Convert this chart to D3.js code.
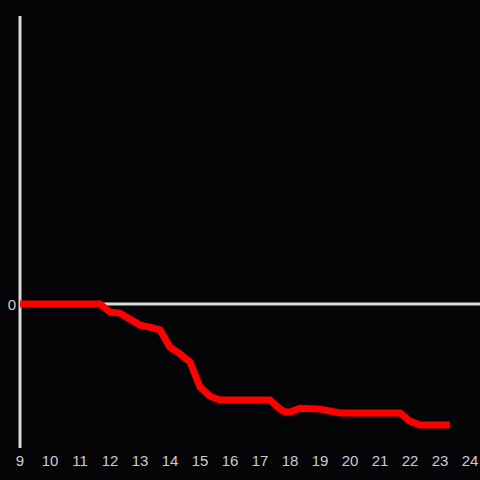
<!DOCTYPE html>
<html>
<head>
<meta charset="utf-8">
<script src="https://cdn.jsdelivr.net/npm/d3@7"></script>
<style>
  html, body { margin: 0; padding: 0; background: #050407; }
</style>
</head>
<body>
<div class="chart"></div>
<script>
// hours of the day and the series value at each hour
var hours = [9, 11.67, 12, 12.33, 13, 13.33, 13.67, 14, 14.33, 14.67, 15, 15.33, 15.67,
             17.33, 17.67, 17.83, 18, 18.33, 19, 19.67, 21.67, 22, 22.33, 23.33];
var values = [0, 0, -0.17, -0.19, -0.44, -0.48, -0.54, -0.9, -1.04, -1.21, -1.73, -1.92, -2.0,
              -2.0, -2.19, -2.25, -2.25, -2.17, -2.19, -2.27, -2.27, -2.44, -2.52, -2.52];
var xTicks = [9, 10, 11, 12, 13, 14, 15, 16, 17, 18, 19, 20, 21, 22, 23, 24];
var yTicks = [0];

var width = 480, height = 480;

var svg = d3.select('.chart').append('svg')
    .attr('width', width)
    .attr('height', height)
    .style('display', 'block');

svg.append('rect').attr('width', width).attr('height', height).attr('fill', '#050407');

var x = d3.scaleLinear().domain([9, 24]).range([20, 470]);
var y = d3.scaleLinear().domain([-3, 6]).range([448, 16]);

// y axis line
svg.append('line')
    .attr('x1', x(9)).attr('x2', x(9))
    .attr('y1', y(6)).attr('y2', y(-3))
    .attr('stroke', '#dcdcdc')
    .attr('stroke-width', 3);

// zero line
svg.append('line')
    .attr('x1', x(9)).attr('x2', width)
    .attr('y1', y(0)).attr('y2', y(0))
    .attr('stroke', '#dcdcdc')
    .attr('stroke-width', 3);

// x tick labels
svg.append('g').selectAll('text')
    .data(xTicks)
    .enter()
    .append('text')
    .attr('x', function (d) { return x(d); })
    .attr('y', 466)
    .attr('text-anchor', 'middle')
    .style('font-family', '"Liberation Sans", Arial, sans-serif')
    .style('font-size', '15px')
    .style('fill', '#cccccc')
    .text(function (d) { return d; });

// y tick labels
svg.append('g').selectAll('text')
    .data(yTicks)
    .enter()
    .append('text')
    .attr('x', 16)
    .attr('y', function (d) { return y(d) + 5.5; })
    .attr('text-anchor', 'end')
    .style('font-family', '"Liberation Sans", Arial, sans-serif')
    .style('font-size', '15px')
    .style('fill', '#cccccc')
    .text(function (d) { return d; });

// the red line
var line = d3.line()
    .x(function (d) { return x(d[0]); })
    .y(function (d) { return y(d[1]); });

svg.append('path')
    .datum(hours.map(function (h, i) { return [h, values[i]]; }))
    .attr('d', line)
    .attr('fill', 'none')
    .attr('stroke', '#ff0000')
    .attr('stroke-width', 7);
</script>
</body>
</html>
